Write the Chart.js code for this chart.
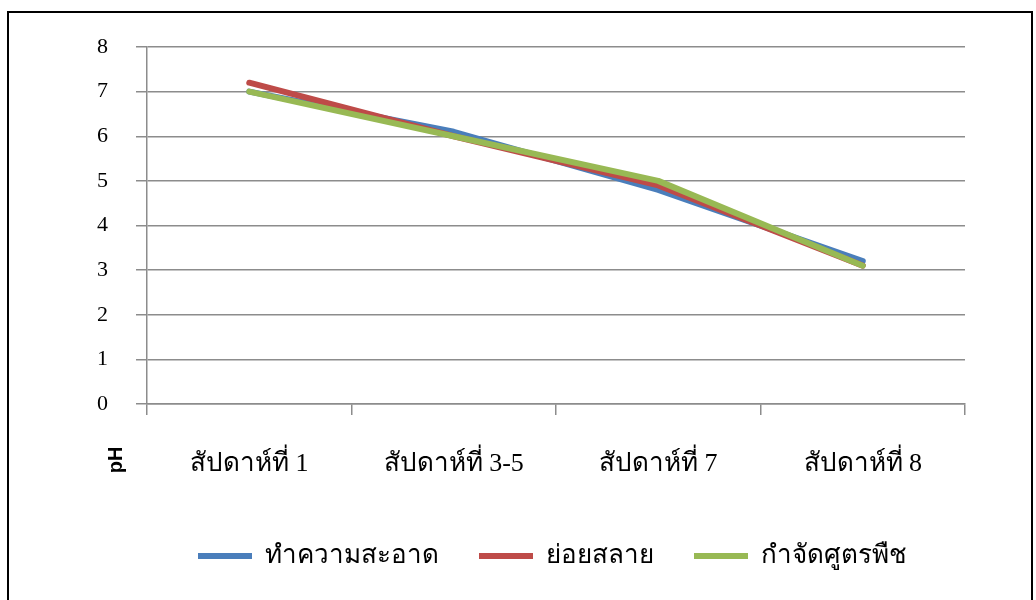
<!DOCTYPE html>
<html>
<head>
<meta charset="utf-8">
<script src="https://cdn.jsdelivr.net/npm/chart.js@4"></script>
<style>
  body { margin: 0; background: #fff; }
  #wrap { position: absolute; left: 0; top: 0; width: 1036px; height: 600px; }
  #frame { position: absolute; left: 7px; top: 11px; width: 1022px; height: 600px; border: 2px solid #000; pointer-events: none; }
</style>
</head>
<body>
<div id="wrap"><canvas id="phChart"></canvas></div>
<div id="frame"></div>
<script>
const weeks = ['สัปดาห์ที่ 1', 'สัปดาห์ที่ 3-5', 'สัปดาห์ที่ 7', 'สัปดาห์ที่ 8'];
const cleaning = [7.0, 6.1, 4.8, 3.2];      // ทำความสะอาด
const decompose = [7.2, 6.0, 4.9, 3.1];     // ย่อยสลาย
const herbicide = [7.0, 6.0, 5.0, 3.1];     // กำจัดศูตรพืช
const yTicks = [0, 1, 2, 3, 4, 5, 6, 7, 8];

const serif = '"Liberation Serif", "Times New Roman", serif';

// y axis title sits low, next to the category labels
const phLabel = {
    id: 'phLabel',
    afterDraw(chart) {
        const c = chart.ctx;
        c.save();
        c.translate(116, 460);
        c.rotate(-Math.PI / 2);
        c.font = 'bold 20px "Liberation Sans", Arial, sans-serif';
        c.fillStyle = '#000';
        c.textAlign = 'center';
        c.textBaseline = 'middle';
        c.fillText('pH', 0, 0);
        c.restore();
    }
};

const ctx = document.getElementById('phChart').getContext('2d');
new Chart(ctx, {
    type: 'line',
    data: {
        labels: weeks,
        datasets: [{
            label: 'ทำความสะอาด',
            data: cleaning,
            borderColor: '#4a7ebb',
            backgroundColor: '#4a7ebb',
            borderWidth: 6,
            order: 3
        }, {
            label: 'ย่อยสลาย',
            data: decompose,
            borderColor: '#be4b48',
            backgroundColor: '#be4b48',
            borderWidth: 6,
            order: 2
        }, {
            label: 'กำจัดศูตรพืช',
            data: herbicide,
            borderColor: '#98b954',
            backgroundColor: '#98b954',
            borderWidth: 6,
            order: 1
        }]
    },
    options: {
        responsive: true,
        maintainAspectRatio: false,
        animation: false,
        elements: {
            point: { radius: 0, hoverRadius: 0 },
            line: { tension: 0, borderCapStyle: 'round', borderJoinStyle: 'round', fill: false }
        },
        layout: { padding: { top: 47, right: 71, left: 140, bottom: 21 } },
        plugins: {
            tooltip: { enabled: false },
            legend: {
                position: 'bottom',
                labels: {
                    usePointStyle: true,
                    pointStyle: 'line',
                    pointStyleWidth: 54,
                    boxHeight: 6,
                    padding: 40,
                    color: '#000',
                    font: { family: serif, size: 26 },
                    sort: (a, b) => a.datasetIndex - b.datasetIndex
                }
            }
        },
        scales: {
            x: {
                offset: true,
                grid: { offset: true, drawOnChartArea: false, color: '#8c8c8c', lineWidth: 1.5, tickLength: 11 },
                border: { color: '#8c8c8c', width: 1.5 },
                ticks: { color: '#000', padding: 34, maxRotation: 0, font: { family: serif, size: 26 } },
                afterFit(scale) { scale.height = 99; }
            },
            y: {
                min: 0,
                max: 8,
                afterBuildTicks(scale) { scale.ticks = yTicks.map(v => ({ value: v })); },
                grid: { color: '#8c8c8c', lineWidth: 1.5, tickLength: 11 },
                border: { color: '#8c8c8c', width: 1.5 },
                // mirrored with negative padding so the labels land left of the axis
                ticks: { color: '#000', mirror: true, padding: -50, font: { family: serif, size: 22 } },
                afterFit(scale) { scale.width = 7; }
            }
        }
    },
    plugins: [phLabel]
});
</script>
</body>
</html>
